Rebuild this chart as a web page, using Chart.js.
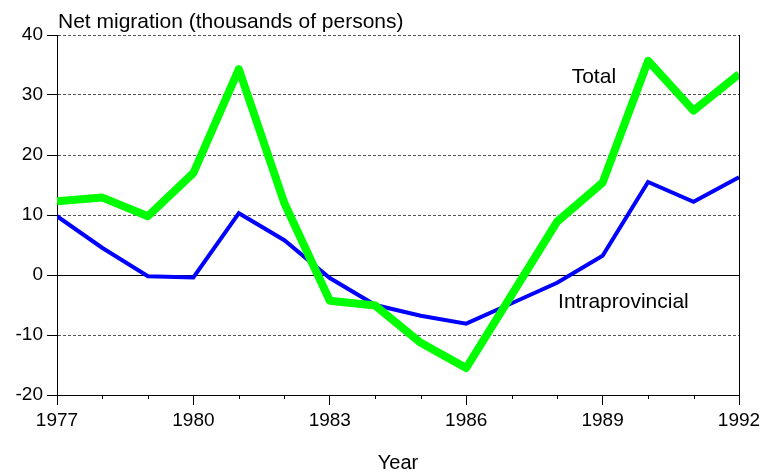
<!DOCTYPE html>
<html>
<head>
<meta charset="utf-8">
<script src="https://cdn.jsdelivr.net/npm/chart.js@4"></script>
<style>
  body { margin: 0; background: #fff; }
</style>
</head>
<body>
<canvas id="migrationChart" width="761" height="472"></canvas>
<script>
const years = [1977, 1978, 1979, 1980, 1981, 1982, 1983, 1984, 1985, 1986, 1987, 1988, 1989, 1990, 1991, 1992];
const totalValues = [12.3, 12.9, 9.8, 17, 34.3, 12, -4.3, -5.1, -11.3, -15.5, -3.3, 8.9, 15.4, 35.7, 27.4, 33.5];
const intraValues = [9.8, 4.5, -0.2, -0.4, 10.3, 5.8, -0.5, -5, -6.8, -8.1, -4.7, -1.3, 3.2, 15.5, 12.2, 16.3];
const yTicks = [-20, -10, 0, 10, 20, 30, 40];
const majorYears = [1977, 1980, 1983, 1986, 1989, 1992];

const fontName = "'Liberation Sans', Arial, sans-serif";

function toPoints(values) {
    return years.map((yr, i) => ({ x: yr, y: values[i] }));
}

// labels, title and minor ticks
const extrasPlugin = {
    id: 'extras',
    afterDraw(chart) {
        const ctx = chart.ctx;
        const xs = chart.scales.x;
        const ys = chart.scales.y;
        ctx.save();
        ctx.fillStyle = '#000';
        ctx.font = '21px ' + fontName;
        ctx.textBaseline = 'alphabetic';
        ctx.textAlign = 'left';
        ctx.fillText('Net migration (thousands of persons)', 58, 28);

        ctx.textBaseline = 'middle';
        ctx.fillText('Total', xs.getPixelForValue(1988.32), ys.getPixelForValue(33));
        ctx.fillText('Intraprovincial', xs.getPixelForValue(1988.02), ys.getPixelForValue(-4.5));

        // minor ticks on x axis
        ctx.strokeStyle = '#000';
        ctx.lineWidth = 1;
        const bottom = chart.chartArea.bottom;
        years.forEach(yr => {
            if (majorYears.includes(yr)) return;
            const px = Math.round(xs.getPixelForValue(yr)) + 0.5;
            ctx.beginPath();
            ctx.moveTo(px, bottom);
            ctx.lineTo(px, bottom + 4);
            ctx.stroke();
        });
        ctx.restore();
    }
};

new Chart(document.getElementById('migrationChart'), {
    type: 'line',
    data: {
        datasets: [
            {
                label: 'Total',
                data: toPoints(totalValues),
                borderColor: '#00ff00',
                borderWidth: 8,
                borderJoinStyle: 'round',
                pointRadius: 0,
                tension: 0
            },
            {
                label: 'Intraprovincial',
                data: toPoints(intraValues),
                borderColor: '#0000ff',
                borderWidth: 4,
                pointRadius: 0,
                tension: 0
            }
        ]
    },
    options: {
        responsive: false,
        animation: false,
        layout: { padding: { top: 35, right: 22, left: 0, bottom: 0 } },
        plugins: {
            legend: { display: false },
            tooltip: { enabled: false }
        },
        scales: {
            x: {
                type: 'linear',
                min: 1977,
                max: 1992,
                afterBuildTicks: (scale) => { scale.ticks = years.map(v => ({ value: v })); },
                afterFit: (scale) => {
                    scale.height = 77;
                    scale.paddingLeft = 0;
                    scale.paddingRight = 0;
                },
                ticks: {
                    autoSkip: false,
                    maxRotation: 0,
                    padding: 4,
                    color: '#000',
                    font: { family: fontName, size: 19 },
                    callback: (v) => majorYears.includes(v) ? String(v) : ''
                },
                grid: {
                    color: (c) => (c.tick && c.tick.value === 1992) ? '#000' : 'rgba(0,0,0,0)',
                    tickColor: (c) => (c.tick && majorYears.includes(c.tick.value)) ? '#000' : 'rgba(0,0,0,0)',
                    tickLength: 10,
                    lineWidth: 1
                },
                border: { color: '#000', width: 1 },
                title: {
                    display: true,
                    text: 'Year',
                    color: '#000',
                    font: { family: fontName, size: 20 },
                    padding: { top: 17, bottom: -3 }
                }
            },
            y: {
                min: -20,
                max: 40,
                afterBuildTicks: (scale) => { scale.ticks = yTicks.map(v => ({ value: v })); },
                afterFit: (scale) => { scale.width = 57; },
                ticks: {
                    padding: 4,
                    color: '#000',
                    font: { family: fontName, size: 19 }
                },
                grid: {
                    color: (c) => (c.tick && c.tick.value === 0) ? '#000' : '#555',
                    tickColor: '#000',
                    tickLength: 10,
                    tickBorderDash: [],
                    lineWidth: 1
                },
                border: {
                    color: '#000',
                    width: 1,
                    dash: (c) => (c.tick && c.tick.value !== 0) ? [3, 2] : []
                }
            }
        }
    },
    plugins: [extrasPlugin]
});
</script>
</body>
</html>
